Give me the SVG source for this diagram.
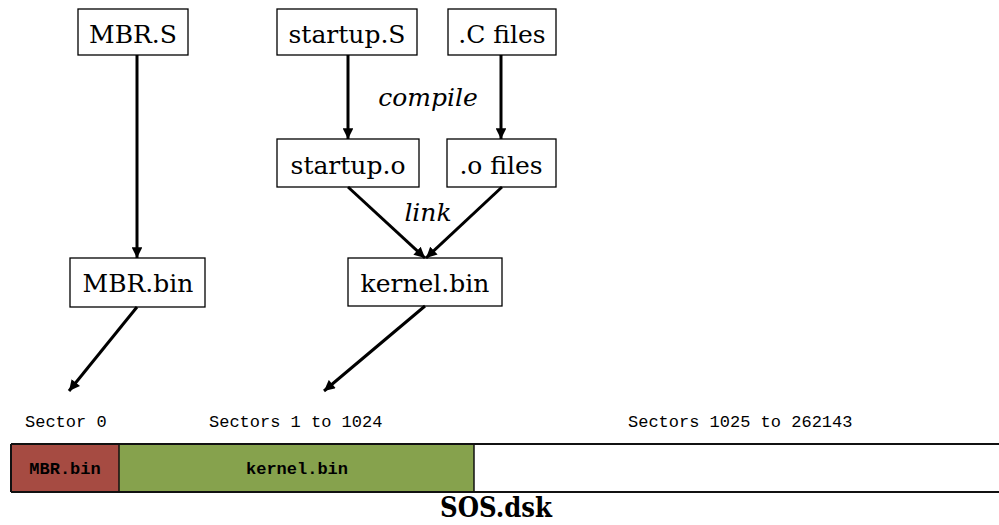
<svg xmlns="http://www.w3.org/2000/svg" width="999" height="525" viewBox="0 0 999 525">
  <style>
    .box { fill: #ffffff; stroke: #000000; stroke-width: 1.3; }
    .lbl { font-family: "DejaVu Serif", "Liberation Serif", serif; font-size: 25px; fill: #000; text-anchor: middle; }
    .verb { font-family: "DejaVu Serif", "Liberation Serif", serif; font-size: 25px; font-style: italic; fill: #000; text-anchor: middle; }
    .edge { stroke: #000; stroke-width: 3; fill: none; marker-end: url(#head); }
    .sec { font-family: "Liberation Mono", "Courier New", monospace; font-size: 17px; fill: #000; }
    .part { font-family: "Liberation Mono", "Courier New", monospace; font-size: 17px; font-weight: bold; fill: #000; text-anchor: middle; }
  </style>
  <defs>
    <marker id="head" viewBox="0 0 10 10" refX="10" refY="5" markerWidth="3.8" markerHeight="3.6" orient="auto" markerUnits="strokeWidth">
      <path d="M0,0 L10,5 L0,10 z" fill="#000"/>
    </marker>
  </defs>
  <rect width="999" height="525" fill="#ffffff"/>

  <!-- build pipeline nodes -->
  <g id="mbr-s"><rect class="box" x="78" y="9" width="110" height="46"/><text class="lbl" x="133" y="43">MBR.S</text></g>
  <g id="startup-s"><rect class="box" x="277" y="9" width="140" height="46"/><text class="lbl" x="347" y="43">startup.S</text></g>
  <g id="c-files"><rect class="box" x="448" y="9" width="108" height="46"/><text class="lbl" x="502" y="43">.C files</text></g>
  <g id="startup-o"><rect class="box" x="277" y="139" width="142" height="48"/><text class="lbl" x="348" y="174">startup.o</text></g>
  <g id="o-files"><rect class="box" x="447" y="139" width="109" height="48"/><text class="lbl" x="501" y="174">.o files</text></g>
  <g id="mbr-bin"><rect class="box" x="70" y="258" width="135" height="49"/><text class="lbl" x="138" y="292">MBR.bin</text></g>
  <g id="kernel-bin"><rect class="box" x="348" y="258" width="154" height="48"/><text class="lbl" x="425" y="292">kernel.bin</text></g>

  <!-- step labels -->
  <text class="verb" x="428" y="106">compile</text>
  <text class="verb" x="428" y="221">link</text>

  <!-- connectors -->
  <g id="connectors">
    <line class="edge" x1="137" y1="55" x2="137" y2="258"/>
    <line class="edge" x1="348" y1="55" x2="348" y2="139"/>
    <line class="edge" x1="501" y1="55" x2="501" y2="139"/>
    <line class="edge" x1="348" y1="187" x2="425" y2="258"/>
    <line class="edge" x1="502" y1="187" x2="426" y2="258"/>
    <line class="edge" x1="137" y1="307" x2="69" y2="391"/>
    <line class="edge" x1="425" y1="306" x2="324" y2="391"/>
  </g>

  <!-- disk image layout -->
  <g id="disk">
    <text class="sec" x="25" y="427">Sector 0</text>
    <text class="sec" x="209" y="427">Sectors 1 to 1024</text>
    <text class="sec" x="628" y="427">Sectors 1025 to 262143</text>
    <rect x="11" y="444" width="108" height="48" fill="#A64B42"/>
    <rect x="119" y="444" width="355" height="48" fill="#86A24D"/>
    <line x1="11" y1="444" x2="999" y2="444" stroke="#111" stroke-width="2"/>
    <line x1="11" y1="492" x2="999" y2="492" stroke="#111" stroke-width="2"/>
    <line x1="11" y1="444" x2="11" y2="492" stroke="#111" stroke-width="2"/>
    <line x1="119" y1="444" x2="119" y2="492" stroke="#111" stroke-width="1.5"/>
    <line x1="474" y1="444" x2="474" y2="492" stroke="#111" stroke-width="1.5"/>
    <text class="part" x="65" y="474">MBR.bin</text>
    <text class="part" x="297" y="474">kernel.bin</text>
    <text x="496" y="517" font-family="'DejaVu Serif', 'Liberation Serif', serif" font-size="27" font-weight="bold" text-anchor="middle" textLength="112" lengthAdjust="spacingAndGlyphs">SOS.dsk</text>
  </g>
</svg>
